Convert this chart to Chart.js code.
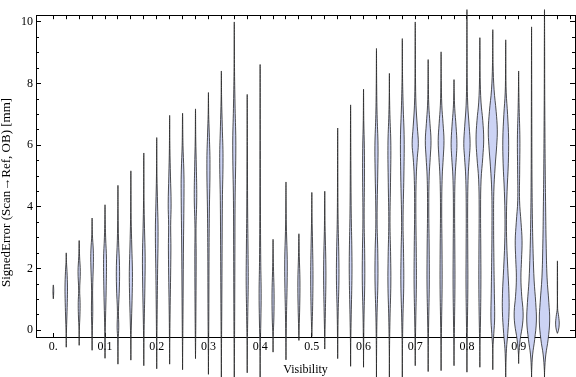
<!DOCTYPE html>
<html>
<head>
<meta charset="utf-8">
<script src="https://cdn.jsdelivr.net/npm/chart.js@4.4.1/dist/chart.umd.min.js"></script>
<style>
    html, body { margin: 0; padding: 0; background: #fff; }
    #wrap { width: 576px; height: 377px; position: relative; }
</style>
</head>
<body>
<div id="wrap"><canvas id="graf"></canvas></div>
<script>
// centro de cada violino (Visibility)
const posicoes = [0, 0.025, 0.05, 0.075, 0.1, 0.125, 0.15, 0.175, 0.2, 0.225,
    0.25, 0.275, 0.3, 0.325, 0.35, 0.375, 0.4, 0.425, 0.45, 0.475,
    0.5, 0.525, 0.55, 0.575, 0.6, 0.625, 0.65, 0.675, 0.7, 0.725,
    0.75, 0.775, 0.8, 0.825, 0.85, 0.875, 0.9, 0.925, 0.95, 0.975];

// extremos de cada violino [mm]
const minimos = [1.02, -0.55, -0.49, -0.65, -0.91, -1.10, -0.97, -1.15, -1.25, -1.10,
    -1.28, -0.92, -1.43, -1.55, -1.55, -1.38, -1.55, -0.71, -0.96, -0.33,
    -0.20, -0.61, -0.92, -1.17, -1.20, -1.55, -1.55, -1.55, -1.15, -1.34,
    -1.31, -1.15, -1.36, -1.20, -1.28, -1.55, -1.08, -1.55, -1.55, -0.10];
const maximos = [1.47, 2.51, 2.91, 3.64, 4.07, 4.70, 5.17, 5.75, 6.25, 6.97,
    7.04, 7.18, 7.71, 8.41, 10.0, 7.65, 8.62, 2.95, 4.81, 3.13,
    4.47, 4.51, 6.56, 7.31, 7.82, 9.14, 8.33, 9.46, 10.0, 8.78,
    9.03, 8.13, 10.4, 9.49, 9.75, 9.42, 8.41, 9.84, 10.4, 2.25];

// perfil de densidade: [erro, meia largura em milesimos de Visibility]
const perfis = [
    [[1.25, 0.8]],
    [[-0.1, 0.3], [0.3, 1.0], [0.9, 2.0], [1.4, 2.4], [1.9, 1.5], [2.2, 0.5]],
    [[0, 0.3], [0.5, 1.5], [0.9, 1.8], [1.3, 1.0], [1.9, 2.2], [2.4, 0.8]],
    [[0, 0.5], [0.6, 1.3], [1.3, 1.0], [2.2, 2.5], [2.6, 2.3], [3.1, 0.6]],
    [[-0.2, 0.3], [0.4, 1.0], [1.3, 2.2], [2.3, 2.8], [3.0, 1.2], [3.6, 0.4]],
    [[-0.3, 0.5], [0.1, 1.6], [0.6, 1.0], [1.4, 2.8], [2.1, 3.0], [2.9, 1.2], [3.8, 0.4]],
    [[-0.3, 0.3], [0.3, 1.2], [1.2, 2.6], [1.9, 3.0], [2.7, 1.8], [3.6, 0.6], [4.4, 0.3]],
    [[-0.4, 0.3], [0.4, 1.0], [1.5, 2.2], [2.4, 2.6], [3.3, 1.4], [4.2, 0.5]],
    [[-0.5, 0.3], [0.5, 0.8], [1.8, 1.6], [3.2, 2.6], [4.1, 1.6], [5.0, 0.5]],
    [[-0.4, 0.3], [0.5, 0.8], [2.6, 2.4], [3.4, 2.0], [4.1, 2.8], [5.0, 1.6], [5.9, 0.5]],
    [[-0.5, 0.3], [0.5, 0.8], [2.5, 1.6], [4.6, 2.8], [5.2, 2.4], [6.0, 0.8]],
    [[-0.4, 0.3], [0.6, 0.8], [2.4, 1.3], [3.3, 1.0], [4.3, 2.4], [5.3, 1.6], [6.2, 0.5]],
    [[-0.6, 0.3], [0.6, 0.8], [2.5, 1.2], [3.8, 1.8], [5.4, 3.0], [6.4, 1.6], [7.0, 0.5]],
    [[-0.6, 0.3], [0.6, 0.8], [2.5, 1.4], [4.2, 2.0], [5.6, 3.2], [6.6, 1.8], [7.5, 0.5]],
    [[-0.6, 0.4], [0.6, 0.8], [2.5, 1.2], [4.2, 1.6], [6.0, 3.0], [7.2, 1.6], [8.4, 0.5]],
    [[-0.5, 0.3], [0.6, 1.2], [1.6, 2.0], [2.6, 1.6], [4.0, 0.8], [6.0, 0.4]],
    [[-0.6, 0.3], [0.3, 1.4], [1.2, 2.0], [2.2, 1.2], [4.0, 0.6], [6.5, 0.3]],
    [[-0.2, 0.3], [0.4, 1.6], [1.2, 2.0], [1.9, 1.0], [2.5, 0.3]],
    [[-0.4, 0.3], [0.5, 1.0], [1.5, 2.2], [2.3, 2.4], [3.2, 1.0], [4.0, 0.3]],
    [[0, 0.4], [0.8, 1.6], [1.6, 2.0], [2.4, 0.8]],
    [[0.1, 0.5], [0.8, 1.6], [1.8, 2.2], [2.8, 1.4], [3.7, 0.4]],
    [[-0.2, 0.3], [0.6, 1.2], [1.6, 2.2], [2.3, 2.0], [3.2, 0.8], [3.9, 0.3]],
    [[-0.3, 0.3], [0.6, 1.0], [1.6, 2.4], [2.4, 2.2], [3.6, 0.8], [5.0, 0.3]],
    [[-0.4, 0.3], [0.5, 1.2], [1.8, 2.6], [2.6, 2.4], [3.8, 1.2], [5.5, 0.5]],
    [[-0.4, 0.3], [0.5, 1.0], [1.6, 2.4], [2.5, 2.2], [3.6, 1.2], [5.0, 1.8], [5.9, 1.6], [6.8, 0.5]],
    [[-0.6, 0.3], [0.4, 1.0], [1.6, 2.8], [2.5, 2.6], [3.6, 1.2], [5.2, 2.6], [6.0, 3.0], [7.0, 1.2], [8.0, 0.4]],
    [[-0.6, 0.3], [0.4, 1.2], [1.5, 2.8], [2.4, 2.4], [3.5, 1.2], [4.8, 2.2], [6.0, 2.8], [7.0, 1.0], [7.6, 0.3]],
    [[-0.6, 0.3], [0.4, 1.2], [1.5, 2.8], [2.5, 2.4], [3.5, 1.4], [5.0, 3.0], [6.2, 3.6], [7.3, 1.6], [8.3, 0.4]],
    [[-0.5, 0.3], [0.3, 1.0], [1.5, 2.2], [2.5, 2.0], [4.0, 1.2], [5.0, 2.0], [5.6, 4.0], [6.05, 6.0], [6.6, 4.0], [7.3, 1.5], [8.2, 0.5]],
    [[-0.5, 0.3], [0.3, 1.0], [1.5, 2.2], [2.6, 2.0], [4.0, 1.2], [5.0, 2.0], [5.6, 4.0], [6.15, 5.5], [6.7, 3.5], [7.3, 1.2], [8.0, 0.4]],
    [[-0.5, 0.3], [0.3, 1.0], [1.5, 2.0], [2.6, 1.8], [4.0, 1.2], [5.0, 2.2], [5.6, 4.2], [6.15, 5.6], [6.7, 3.8], [7.3, 1.4], [8.1, 0.4]],
    [[-0.5, 0.3], [0.3, 1.0], [1.5, 1.8], [2.6, 1.6], [4.0, 1.2], [5.0, 2.2], [5.6, 4.4], [6.05, 5.6], [6.6, 4.0], [7.2, 1.4], [7.7, 0.4]],
    [[-0.5, 0.3], [0.3, 1.0], [1.5, 1.8], [2.6, 1.6], [4.0, 1.4], [5.0, 2.4], [5.6, 4.6], [6.05, 6.1], [6.6, 4.4], [7.3, 1.6], [8.2, 0.5], [9.3, 0.3]],
    [[-0.5, 0.3], [0.3, 1.2], [1.5, 2.0], [2.6, 1.8], [4.0, 1.4], [4.9, 2.4], [5.6, 5.6], [6.2, 7.4], [6.8, 5.6], [7.4, 2.2], [8.2, 0.6], [9.0, 0.3]],
    [[-0.6, 0.3], [-0.1, 2.0], [0.4, 3.6], [1.2, 3.0], [2.2, 2.2], [3.4, 1.6], [4.5, 2.0], [5.3, 4.5], [6.0, 7.6], [6.5, 8.7], [7.1, 6.5], [7.8, 2.5], [8.6, 0.6]],
    [[-1.2, 0.3], [-0.6, 1.5], [-0.1, 4.0], [0.6, 6.4], [1.2, 6.2], [2.0, 4.0], [2.8, 2.0], [3.6, 1.4], [4.5, 2.6], [5.4, 5.0], [6.2, 5.6], [7.0, 3.6], [7.7, 1.0], [8.5, 0.3]],
    [[-0.8, 0.3], [-0.3, 3.0], [0.2, 7.6], [0.6, 8.6], [1.1, 6.0], [1.7, 4.4], [2.3, 5.6], [2.9, 6.6], [3.5, 4.6], [4.2, 1.8], [5.2, 2.0], [6.2, 2.4], [7.2, 1.0], [7.9, 0.3]],
    [[-1.3, 0.3], [-0.8, 2.0], [-0.3, 6.0], [0.3, 9.3], [0.9, 8.0], [1.6, 5.0], [2.5, 3.0], [3.6, 1.6], [5.0, 0.8], [6.5, 0.5], [8.0, 0.3]],
    [[-1.3, 0.3], [-0.8, 2.5], [-0.3, 7.0], [0.3, 10.0], [0.9, 8.4], [1.7, 5.0], [2.8, 3.2], [4.0, 2.2], [5.2, 1.4], [6.6, 0.8], [8.0, 0.4], [9.2, 0.3]],
    [[0.0, 2.0], [0.2, 3.5], [0.45, 2.4], [0.7, 0.4], [1.5, 0.3]]
];

// eixos
const ticksX = [0, 0.1, 0.2, 0.3, 0.4, 0.5, 0.6, 0.7, 0.8, 0.9];
const rotulosX = ['0.', '0.1', '0.2', '0.3', '0.4', '0.5', '0.6', '0.7', '0.8', '0.9'];
const rotulosY = [0, 2, 4, 6, 8, 10];
const ticksYMenores = [];
for (let k = 0; k <= 20; k++) ticksYMenores.push(k / 2);

Chart.defaults.font.family = '"Liberation Serif", "Times New Roman", serif';
Chart.defaults.font.size = 12;
Chart.defaults.color = '#000';

// monta o contorno fechado de cada violino
function contorno(p, i) {
    const lado = perfis[i];
    const pts = [{x: p, y: minimos[i]}];
    lado.forEach(function (k) { pts.push({x: p + k[1] / 1000, y: k[0]}); });
    pts.push({x: p, y: maximos[i]});
    lado.slice().reverse().forEach(function (k) { pts.push({x: p - k[1] / 1000, y: k[0]}); });
    pts.push({x: p, y: minimos[i]});
    return pts;
}

const datasets = posicoes.map(function (p, i) {
    return {
        data: contorno(p, i),
        borderColor: 'rgba(35,35,35,0.8)',
        borderWidth: 1,
        backgroundColor: 'rgb(204,211,244)',
        pointRadius: 0,
        tension: 0.4,
        fill: false,
        clip: false
    };
});

// preenche o violino sem cortar na area do grafico
const preencherViolino = {
    id: 'preencherViolino',
    beforeDatasetDraw: function (chart, args) {
        const linha = args.meta.dataset;
        if (!linha || !linha.points.length) return;
        linha.updateControlPoints(chart.chartArea, 'x');
        const ctx = chart.ctx;
        ctx.save();
        ctx.beginPath();
        linha.path(ctx);
        ctx.closePath();
        ctx.fillStyle = chart.data.datasets[args.index].backgroundColor;
        ctx.fill();
        ctx.restore();
    }
};

// titulo vertical do eixo y
const tituloY = {
    id: 'tituloY',
    afterDraw: function (chart) {
        const ctx = chart.ctx;
        ctx.save();
        ctx.translate(6.5, 192.5);
        ctx.rotate(-Math.PI / 2);
        ctx.textAlign = 'center';
        ctx.textBaseline = 'middle';
        ctx.font = '13px "Liberation Serif", serif';
        ctx.fillStyle = '#000';
        ctx.fillText('SignedError (Scan\u2192Ref, OB) [mm]', 0, 0);
        ctx.restore();
    }
};

function fixarTicks(lista) {
    return function (axis) {
        axis.ticks = lista.map(function (v) { return {value: v}; });
    };
}

function grade(comprimento) {
    return {drawOnChartArea: false, drawTicks: true, tickLength: comprimento, color: '#000', tickColor: '#000'};
}
const borda = {display: true, color: '#000', width: 1};
const semBorda = {display: false};
const faixaY = {min: -0.219, max: 10.219};
const faixaX = {min: -0.0335, max: 1.009};

const ctx = document.getElementById('graf').getContext('2d');
new Chart(ctx, {
    type: 'line',
    data: {datasets: datasets},
    options: {
        responsive: true,
        maintainAspectRatio: false,
        animation: false,
        layout: {padding: 0},
        elements: {line: {capBezierPoints: false}},
        plugins: {legend: {display: false}, tooltip: {enabled: false}},
        scales: {
            x: {
                type: 'linear',
                position: 'bottom',
                min: faixaX.min,
                max: faixaX.max,
                grid: grade(-4),
                border: borda,
                afterBuildTicks: fixarTicks(ticksX),
                afterFit: function (axis) { axis.height = 40; },
                ticks: {
                    autoSkip: false,
                    maxRotation: 0,
                    padding: 7,
                    callback: function (value) {
                        const i = ticksX.indexOf(value);
                        return i >= 0 ? rotulosX[i] : '';
                    }
                },
                title: {display: true, text: 'Visibility', padding: {top: 2, bottom: 0}}
            },
            xTopo: {
                type: 'linear',
                position: 'top',
                min: faixaX.min,
                max: faixaX.max,
                grid: grade(-4),
                border: borda,
                afterBuildTicks: fixarTicks(posicoes.concat([1])),
                afterFit: function (axis) { axis.height = 4; },
                ticks: {display: false}
            },
            y: {
                type: 'linear',
                position: 'left',
                weight: 1,
                min: faixaY.min,
                max: faixaY.max,
                grid: grade(-5),
                border: borda,
                afterBuildTicks: fixarTicks(rotulosY),
                afterFit: function (axis) { axis.width = 36; },
                ticks: {
                    autoSkip: false,
                    padding: 8,
                    callback: function (value) { return String(value); }
                }
            },
            yMenor: {
                type: 'linear',
                position: 'left',
                weight: 0,
                min: faixaY.min,
                max: faixaY.max,
                grid: grade(-3),
                border: semBorda,
                afterBuildTicks: fixarTicks(ticksYMenores),
                afterFit: function (axis) { axis.width = 0; },
                ticks: {display: false}
            },
            yDireita: {
                type: 'linear',
                position: 'right',
                weight: 1,
                min: faixaY.min,
                max: faixaY.max,
                grid: grade(-5),
                border: borda,
                afterBuildTicks: fixarTicks(rotulosY),
                afterFit: function (axis) { axis.width = 1; },
                ticks: {display: false}
            },
            yDireitaMenor: {
                type: 'linear',
                position: 'right',
                weight: 0,
                min: faixaY.min,
                max: faixaY.max,
                grid: grade(-3),
                border: semBorda,
                afterBuildTicks: fixarTicks(ticksYMenores),
                afterFit: function (axis) { axis.width = 0; },
                ticks: {display: false}
            }
        }
    },
    plugins: [preencherViolino, tituloY]
});
</script>
</body>
</html>
